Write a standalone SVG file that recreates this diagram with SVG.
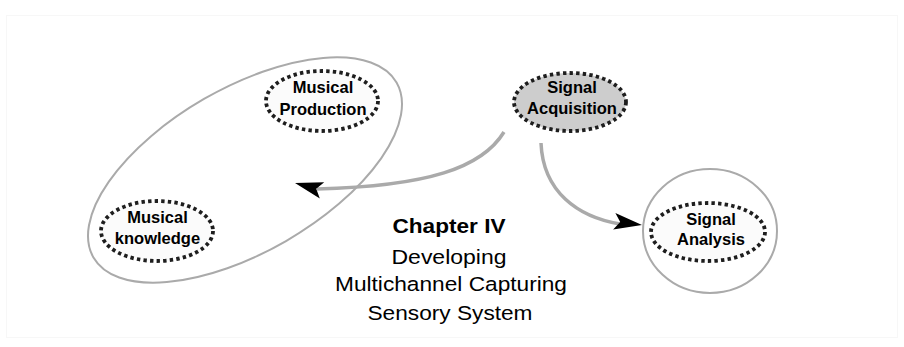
<svg xmlns="http://www.w3.org/2000/svg" xmlns:xlink="http://www.w3.org/1999/xlink" width="904" height="347" viewBox="0 0 904 347">
<style>
  .frame { fill: none; stroke: #aaaaaa; stroke-width: 2; }
  .dot { stroke: #1e1e1e; stroke-width: 3.8; stroke-dasharray: 3.4 3.2; }
  .lbl { font-family: "Liberation Sans", Arial, sans-serif; font-weight: bold; font-size: 16.5px; fill: #000; text-anchor: middle; }
  .cap { font-family: "Liberation Sans", Arial, sans-serif; font-size: 20.5px; fill: #000; text-anchor: middle; }
  .conn { fill: none; stroke: #aaaaaa; stroke-width: 3.5; }
  .head { fill: #000; }
</style>
<defs>
  <path id="ah" d="M0,0 L-28,-8.4 L-22,0 L-28,8.4 Z"/>
</defs>
<rect width="904" height="347" fill="#ffffff"/>
<rect x="6.5" y="15.5" width="891" height="322" fill="none" stroke="#f7f7f7" stroke-width="1"/>

<g id="group-musical">
  <ellipse class="frame" cx="245" cy="170" rx="175" ry="82" transform="rotate(-30 245 170)"/>
</g>

<g id="musical-production">
  <ellipse class="dot" cx="322" cy="101" rx="56" ry="30" fill="#fbfbfb"/>
  <text class="lbl" x="323" y="93">Musical</text>
  <text class="lbl" x="323" y="115">Production</text>
</g>

<g id="musical-knowledge">
  <ellipse class="dot" cx="157" cy="231" rx="56" ry="30" fill="#fbfbfb"/>
  <text class="lbl" x="157.5" y="223">Musical</text>
  <text class="lbl" x="157.5" y="244">knowledge</text>
</g>

<g id="signal-acquisition">
  <ellipse class="dot" cx="570" cy="102" rx="56" ry="29" fill="#cdcdcd"/>
  <text class="lbl" x="572" y="93">Signal</text>
  <text class="lbl" x="572" y="114">Acquisition</text>
</g>

<g id="signal-analysis">
  <ellipse class="frame" cx="710" cy="231" rx="67" ry="62"/>
  <ellipse class="dot" cx="708" cy="232" rx="57" ry="29" fill="#fbfbfb"/>
  <text class="lbl" x="711" y="225">Signal</text>
  <text class="lbl" x="711" y="245">Analysis</text>
</g>

<g id="connectors">
  <path class="conn" d="M504,132 C482,168 428,186 317,189"/>
  <use xlink:href="#ah" class="head" transform="translate(295,183) rotate(195.2)"/>
  <path class="conn" d="M541,143 C543,192 578,217 620,224"/>
  <use xlink:href="#ah" class="head" transform="translate(642,225) rotate(7.7)"/>
</g>

<g id="chapter-caption">
  <text class="cap" x="449" y="233" font-weight="bold" textLength="113" lengthAdjust="spacingAndGlyphs">Chapter IV</text>
  <text class="cap" x="449" y="264" textLength="115" lengthAdjust="spacingAndGlyphs">Developing</text>
  <text class="cap" x="451" y="291" textLength="232" lengthAdjust="spacingAndGlyphs">Multichannel Capturing</text>
  <text class="cap" x="450" y="320" textLength="165" lengthAdjust="spacingAndGlyphs">Sensory System</text>
</g>
</svg>
